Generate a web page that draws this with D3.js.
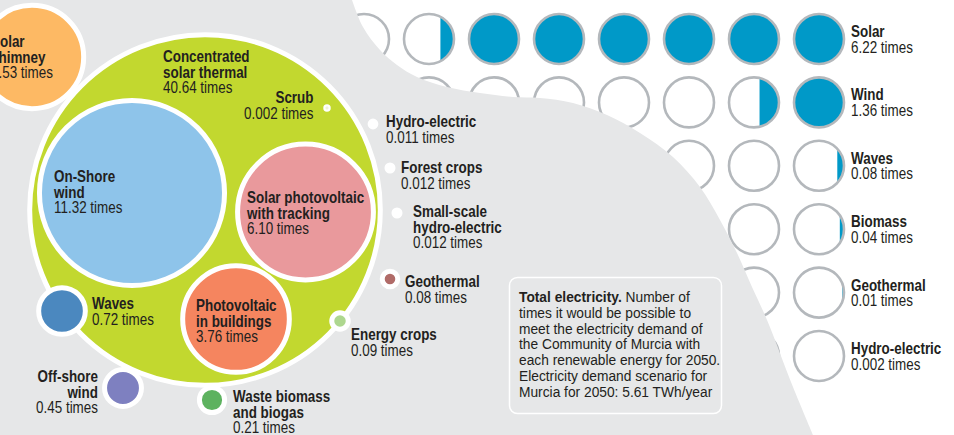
<!DOCTYPE html>
<html>
<head>
<meta charset="utf-8">
<script src="https://cdn.jsdelivr.net/npm/d3@7"></script>
<style>
  html, body { margin: 0; padding: 0; background: #ffffff; }
  svg { display: block; }
  .lbl { font-family: "Liberation Sans", Arial, sans-serif; font-size: 16px; fill: #231f20; }
  .lbl .name { font-weight: bold; }
  .note { font-family: "Liberation Sans", Arial, sans-serif; font-size: 14.5px; fill: #231f20; }
</style>
</head>
<body>
<svg id="chart" width="954" height="435"></svg>
<script>
// ---- Bubble chart: times the 2050 electricity demand could be met, per technology
const bubbleNames = [
  "Concentrated solar thermal", "On-Shore wind", "Solar photovoltaic with tracking",
  "Photovoltaic in buildings", "Solar chimney", "Waves", "Off-shore wind",
  "Waste biomass and biogas", "Energy crops", "Geothermal", "Small-scale hydro-electric",
  "Forest crops", "Hydro-electric", "Scrub"
];
const bubbleValues = [40.64, 11.32, 6.10, 3.76, 3.53, 0.72, 0.45, 0.21, 0.09, 0.08, 0.012, 0.012, 0.011, 0.002];

// ---- Grid of unit circles: times the demand could be met, per resource
const gridNames = ["Solar", "Wind", "Waves", "Biomass", "Geothermal", "Hydro-electric"];
const gridValues = [6.22, 1.36, 0.08, 0.04, 0.01, 0.002];
const gridColumns = 8;

// ---- Note text
const noteTitle = "Total electricity.";
const noteLines = [
  " Number of",
  "times it would be possible to",
  "meet the electricity demand of",
  "the Community of Murcia with",
  "each renewable energy for 2050.",
  "Electricity demand scenario for",
  "Murcia for 2050: 5.61 TWh/year"
];

// ---- Styling and placement
const bubbleColors = {
  "Concentrated solar thermal": "#c2d82f",
  "On-Shore wind": "#8ec4ea",
  "Solar photovoltaic with tracking": "#e9999c",
  "Photovoltaic in buildings": "#f5855f",
  "Solar chimney": "#fdb964",
  "Waves": "#4b88bf",
  "Off-shore wind": "#7e80c0",
  "Waste biomass and biogas": "#5db25f",
  "Energy crops": "#aed78f",
  "Geothermal": "#b06b68",
  "Small-scale hydro-electric": "#ffffff",
  "Forest crops": "#ffffff",
  "Hydro-electric": "#ffffff",
  "Scrub": "#eef3dc"
};
// bubble centres and label anchors (label: x, first baseline, anchor, lines of the name)
const layout = {
  "Concentrated solar thermal":      { c: [205, 210], l: [163, 62, "start", ["Concentrated", "solar thermal"]] },
  "On-Shore wind":                   { c: [132, 193], l: [54, 182, "start", ["On-Shore", "wind"]] },
  "Solar photovoltaic with tracking":{ c: [305.5, 212], l: [247, 203, "start", ["Solar photovoltaic", "with tracking"]] },
  "Photovoltaic in buildings":       { c: [236, 319], l: [196, 311, "start", ["Photovoltaic", "in buildings"]] },
  "Solar chimney":                   { c: [32, 57], l: [-9, 47, "start", ["Solar", "chimney"]] },
  "Waves":                           { c: [62, 311], l: [92, 309, "start", ["Waves"]] },
  "Off-shore wind":                  { c: [123, 388], l: [98, 382, "end", ["Off-shore", "wind"]] },
  "Waste biomass and biogas":        { c: [212, 400], l: [233, 402, "start", ["Waste biomass", "and biogas"]] },
  "Energy crops":                    { c: [340, 321], l: [351, 340, "start", ["Energy crops"]] },
  "Geothermal":                      { c: [390, 279], l: [405, 287, "start", ["Geothermal"]] },
  "Small-scale hydro-electric":      { c: [397, 213], l: [413, 217, "start", ["Small-scale", "hydro-electric"]] },
  "Forest crops":                    { c: [390, 168], l: [401, 173, "start", ["Forest crops"]] },
  "Hydro-electric":                  { c: [373, 124], l: [386, 127, "start", ["Hydro-electric"]] },
  "Scrub":                           { c: [327, 108], l: [313.5, 103, "end", ["Scrub"]] }
};
const lineGap = 15.7;
const ringWidth = 5;
const condense = 0.84;     // horizontal squeeze giving the labels a condensed face
const noteCondense = 0.95; // slight squeeze for the note text

// boundary between the grey panel and the white panel
const panelEdge = [[352,0],[363,27],[380,50],[397,65],[417,77],[447,87],[480,93],[513,97],[540,98],
  [573,103],[607,115],[640,133],[673,157],[700,187],[720,220],[737,253],[752,287],[767,320],[793,387],[813,435]];

const W = 954, H = 435;
const svg = d3.select("#chart");

const fmtTimes = v => {
  const twoDp = Math.abs(v * 100 - Math.round(v * 100)) < 1e-6;
  return (twoDp ? v.toFixed(2) : v.toFixed(3)) + " times";
};

// multi-line label: bold name lines followed by the value line
function drawLabel(parent, x, y, anchor, lines, value) {
  const g = parent.append("g").attr("transform", `translate(${x},${y}) scale(${condense},1)`);
  const t = g.append("text").attr("class", "lbl").attr("text-anchor", anchor);
  lines.forEach((ln, k) => {
    t.append("tspan").attr("class", "name").attr("x", 0).attr("dy", k === 0 ? 0 : lineGap).text(ln);
  });
  t.append("tspan").attr("x", 0).attr("dy", lineGap).text(fmtTimes(value));
}

// white panel
svg.append("rect").attr("width", W).attr("height", H).attr("fill", "#ffffff");

// ---- grid of unit circles
const colX = d3.scalePoint().domain(d3.range(gridColumns)).range([819, 364]); // column 0 = rightmost
const rowY = d3.scalePoint().domain(gridNames).range([39, 356]);
const unitR = 25;
const defs = svg.append("defs");

// depth of a vertical segment (from the right) holding a given share of the circle's area
function segmentDepth(frac, r) {
  if (frac <= 0) return 0;
  if (frac >= 1) return 2 * r;
  let lo = 0, hi = 2 * Math.PI;
  for (let i = 0; i < 60; i++) {
    const th = (lo + hi) / 2;
    if ((th - Math.sin(th)) / (2 * Math.PI) < frac) lo = th; else hi = th;
  }
  const th = (lo + hi) / 2;
  return r * (1 - Math.cos(th / 2));
}

const grid = svg.append("g");
gridNames.forEach((name, ri) => {
  const v = gridValues[ri];
  const cy = rowY(name);
  d3.range(gridColumns).forEach(ci => {
    const cx = colX(ci);
    const share = Math.max(0, Math.min(1, v - ci));
    grid.append("circle").attr("cx", cx).attr("cy", cy).attr("r", unitR)
      .attr("fill", share >= 1 ? "#0099c8" : "#ffffff");
    if (share > 0 && share < 1) {
      const id = `clip-${ri}-${ci}`;
      const h = segmentDepth(share, unitR);
      defs.append("clipPath").attr("id", id).append("rect")
        .attr("x", cx + unitR - h).attr("y", cy - unitR).attr("width", h).attr("height", 2 * unitR);
      grid.append("circle").attr("cx", cx).attr("cy", cy).attr("r", unitR)
        .attr("fill", "#0099c8").attr("clip-path", `url(#${id})`);
    }
    grid.append("circle").attr("cx", cx).attr("cy", cy).attr("r", unitR)
      .attr("fill", "none").attr("stroke", "#b4b8bc").attr("stroke-width", 2.6);
  });
  drawLabel(svg, 851, cy - 2, "start", [name], v);
});

// ---- grey panel over the left / bottom
const edgeLine = d3.line().curve(d3.curveCatmullRom.alpha(0.5));
svg.append("path")
  .attr("d", edgeLine(panelEdge) + `L0,${H}L0,0Z`)
  .attr("fill", "#e6e7e8");

// ---- bubbles
const maxV = d3.max(bubbleValues);
const rScale = d3.scaleSqrt().domain([0, maxV]).range([0, 27.5 * Math.sqrt(maxV)]);
const bubbles = svg.append("g");
bubbleNames.forEach((name, i) => {
  const [cx, cy] = layout[name].c;
  bubbles.append("circle")
    .attr("cx", cx).attr("cy", cy).attr("r", rScale(bubbleValues[i]))
    .attr("fill", bubbleColors[name])
    .attr("stroke", "#ffffff").attr("stroke-width", ringWidth);
});

// ---- bubble labels
const labels = svg.append("g");
bubbleNames.forEach((name, i) => {
  const [x, y, anchor, lines] = layout[name].l;
  drawLabel(labels, x, y, anchor, lines, bubbleValues[i]);
});

// ---- note box
const note = svg.append("g");
note.append("rect").attr("x", 509.5).attr("y", 277.5).attr("width", 212).attr("height", 136)
  .attr("rx", 8).attr("fill", "#e6e7e8").attr("stroke", "#ffffff").attr("stroke-width", 1.5);
const nt = note.append("g").attr("transform", `translate(519,302) scale(${noteCondense},1)`)
  .append("text").attr("class", "note").attr("x", 0).attr("y", 0);
nt.append("tspan").attr("font-weight", "bold").text(noteTitle);
noteLines.forEach((ln, k) => {
  const s = nt.append("tspan").text(ln);
  if (k > 0) s.attr("x", 0).attr("dy", 15.8);
});
</script>
</body>
</html>
